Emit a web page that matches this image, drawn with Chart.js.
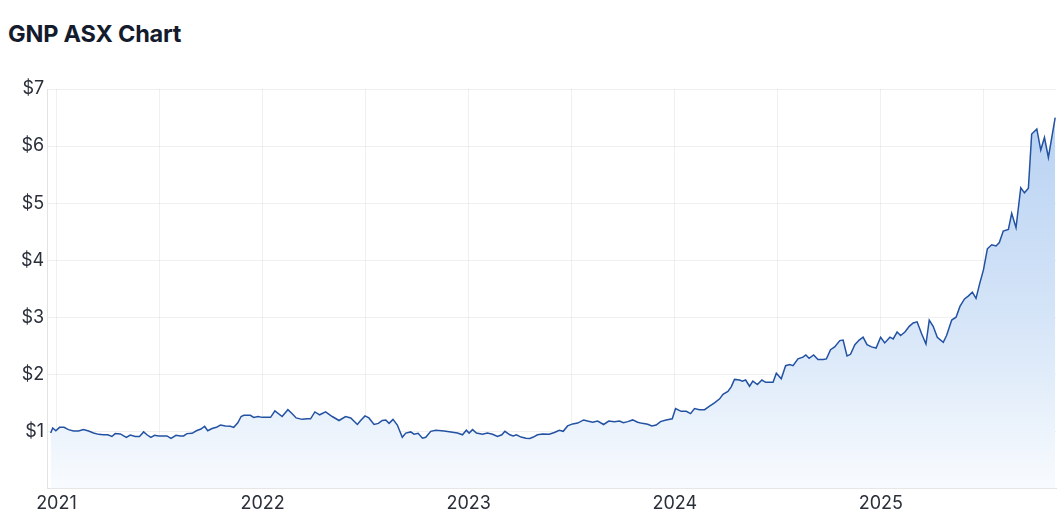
<!DOCTYPE html>
<html>
<head>
<meta charset="utf-8">
<script src="https://cdn.jsdelivr.net/npm/chart.js@4.4.1/dist/chart.umd.min.js"></script>
<style>
  html, body { margin: 0; padding: 0; background: #fff; }
  body { width: 1057px; height: 528px; position: relative; overflow: hidden; font-family: 'Inter', sans-serif; }
  h1 { position: absolute; left: 8px; top: 20px; margin: 0; font-size: 23.5px; line-height: 28px; font-weight: 700; color: #141b2d; letter-spacing: -0.2px; }
  #wrap { position: absolute; left: 0; top: 0; width: 1057px; height: 528px; }
</style>
</head>
<body>
<h1>GNP ASX Chart</h1>
<div id="wrap"><canvas id="chart"></canvas></div>
<script>
// weekly closes, x = decimal year
const dates = [
  2020.972, 2020.982, 2020.997, 2021.015, 2021.037, 2021.058, 2021.083, 2021.107, 2021.131, 2021.156,
  2021.180, 2021.204, 2021.228, 2021.249, 2021.269, 2021.285, 2021.310, 2021.339, 2021.358, 2021.383,
  2021.403, 2021.423, 2021.439, 2021.458, 2021.476, 2021.496, 2021.520, 2021.536, 2021.556, 2021.580,
  2021.601, 2021.617, 2021.633, 2021.658, 2021.679, 2021.701, 2021.719, 2021.734, 2021.755, 2021.776,
  2021.796, 2021.820, 2021.844, 2021.860, 2021.880, 2021.896, 2021.909, 2021.941, 2021.957, 2021.978,
  2021.998, 2022.039, 2022.060, 2022.095, 2022.123, 2022.144, 2022.163, 2022.192, 2022.217, 2022.233,
  2022.254, 2022.277, 2022.306, 2022.338, 2022.371, 2022.403, 2022.428, 2022.460, 2022.476, 2022.497,
  2022.516, 2022.541, 2022.562, 2022.581, 2022.598, 2022.614, 2022.633, 2022.654, 2022.678, 2022.695,
  2022.719, 2022.735, 2022.755, 2022.776, 2022.792, 2022.816, 2022.841, 2022.881, 2022.914, 2022.946,
  2022.970, 2022.989, 2023.002, 2023.019, 2023.038, 2023.067, 2023.091, 2023.116, 2023.140, 2023.161,
  2023.176, 2023.200, 2023.216, 2023.232, 2023.254, 2023.278, 2023.297, 2023.314, 2023.334, 2023.359,
  2023.391, 2023.416, 2023.440, 2023.459, 2023.480, 2023.505, 2023.529, 2023.558, 2023.577, 2023.602,
  2023.626, 2023.655, 2023.680, 2023.707, 2023.732, 2023.751, 2023.772, 2023.796, 2023.820, 2023.842,
  2023.869, 2023.889, 2023.910, 2023.931, 2023.958, 2023.988, 2024.004, 2024.031, 2024.056, 2024.077,
  2024.096, 2024.120, 2024.145, 2024.169, 2024.193, 2024.218, 2024.234, 2024.258, 2024.274, 2024.290,
  2024.315, 2024.328, 2024.344, 2024.363, 2024.379, 2024.401, 2024.423, 2024.441, 2024.477, 2024.493,
  2024.517, 2024.538, 2024.558, 2024.574, 2024.598, 2024.622, 2024.636, 2024.652, 2024.674, 2024.695,
  2024.720, 2024.736, 2024.756, 2024.776, 2024.801, 2024.817, 2024.836, 2024.853, 2024.874, 2024.895,
  2024.914, 2024.933, 2024.955, 2024.977, 2024.999, 2025.019, 2025.044, 2025.060, 2025.079, 2025.096,
  2025.117, 2025.138, 2025.157, 2025.176, 2025.198, 2025.219, 2025.235, 2025.254, 2025.274, 2025.303,
  2025.319, 2025.344, 2025.365, 2025.384, 2025.406, 2025.424, 2025.444, 2025.462, 2025.479, 2025.498,
  2025.517, 2025.538, 2025.559, 2025.575, 2025.594, 2025.619, 2025.635, 2025.656, 2025.679, 2025.697,
  2025.716, 2025.732, 2025.757, 2025.776, 2025.794, 2025.813, 2025.846
]

const prices = [
  0.97, 1.06, 1.01, 1.07, 1.07, 1.03, 1.005, 1.005, 1.03, 1.005,
  0.97, 0.947, 0.94, 0.94, 0.91, 0.96, 0.955, 0.895, 0.935, 0.91,
  0.91, 0.99, 0.94, 0.895, 0.93, 0.92, 0.92, 0.92, 0.877, 0.93,
  0.92, 0.92, 0.96, 0.965, 1.01, 1.04, 1.09, 1.01, 1.05, 1.07,
  1.11, 1.095, 1.09, 1.07, 1.15, 1.26, 1.28, 1.28, 1.245, 1.26,
  1.245, 1.245, 1.36, 1.26, 1.38, 1.31, 1.235, 1.21, 1.22, 1.22,
  1.34, 1.29, 1.34, 1.26, 1.19, 1.26, 1.235, 1.12, 1.19, 1.27,
  1.235, 1.12, 1.14, 1.19, 1.20, 1.14, 1.21, 1.11, 0.895, 0.97,
  0.99, 0.95, 0.965, 0.88, 0.895, 1.0, 1.02, 1.005, 0.99, 0.97,
  0.94, 1.02, 0.97, 1.03, 0.97, 0.95, 0.97, 0.95, 0.91, 0.94,
  1.0, 0.94, 0.92, 0.94, 0.90, 0.88, 0.875, 0.90, 0.94, 0.955,
  0.95, 0.98, 1.02, 1.0, 1.095, 1.13, 1.145, 1.20, 1.18, 1.16,
  1.18, 1.12, 1.18, 1.17, 1.18, 1.15, 1.17, 1.20, 1.16, 1.14,
  1.125, 1.095, 1.11, 1.17, 1.20, 1.22, 1.40, 1.35, 1.35, 1.31,
  1.40, 1.38, 1.38, 1.44, 1.50, 1.57, 1.65, 1.70, 1.78, 1.91,
  1.90, 1.88, 1.90, 1.79, 1.88, 1.82, 1.90, 1.86, 1.86, 2.02,
  1.92, 2.15, 2.17, 2.15, 2.27, 2.30, 2.34, 2.28, 2.34, 2.26,
  2.26, 2.27, 2.43, 2.48, 2.59, 2.60, 2.32, 2.35, 2.52, 2.60,
  2.65, 2.52, 2.48, 2.46, 2.65, 2.55, 2.65, 2.62, 2.74, 2.68,
  2.74, 2.84, 2.90, 2.92, 2.71, 2.53, 2.95, 2.84, 2.65, 2.56,
  2.68, 2.95, 3.00, 3.19, 3.32, 3.37, 3.44, 3.33, 3.58, 3.83,
  4.20, 4.27, 4.25, 4.31, 4.51, 4.54, 4.82, 4.57, 5.27, 5.18,
  5.26, 6.21, 6.30, 5.93, 6.15, 5.80, 6.50
]

const xTicks = [2021, 2021.5, 2022, 2022.5, 2023, 2023.5, 2024, 2024.5, 2025, 2025.5]
const yTicks = [0, 1, 2, 3, 4, 5, 6, 7]

const points = dates.map((d, i) => ({ x: d, y: prices[i] }))

const ctx = document.getElementById('chart').getContext('2d')

new Chart(ctx, {
  type: 'line',
  data: {
    datasets: [
      {
        label: 'GNP',
        data: points,
        borderColor: '#2352a3',
        borderWidth: 1.5,
        pointRadius: 0,
        tension: 0,
        fill: 'origin',
        backgroundColor: (context) => {
          const area = context.chart.chartArea
          if (!area) return 'rgba(180, 205, 240, 0.5)'
          const g = context.chart.ctx.createLinearGradient(0, area.top, 0, area.bottom)
          g.addColorStop(0, 'rgba(180, 207, 242, 1)')
          g.addColorStop(0.6, 'rgba(215, 230, 248, 1)')
          g.addColorStop(1, 'rgba(248, 251, 254, 1)')
          return g
        }
      }
    ]
  },
  options: {
    responsive: true,
    maintainAspectRatio: false,
    animation: false,
    layout: {
      padding: { top: 89, left: 18, right: 1, bottom: 10 }
    },
    plugins: {
      legend: { display: false },
      tooltip: { enabled: false }
    },
    scales: {
      x: {
        type: 'linear',
        min: 2020.955,
        max: 2025.85,
        afterBuildTicks: (scale) => {
          scale.ticks = xTicks.map(v => ({ value: v }))
        },
        ticks: {
          autoSkip: false,
          maxRotation: 0,
          padding: 4,
          color: '#2a2f3a',
          font: { size: 18, family: "'Inter', sans-serif" },
          callback: (v) => Number.isInteger(v) ? String(v) : ''
        },
        grid: {
          color: 'rgba(0, 0, 0, 0.06)',
          drawTicks: false
        },
        border: { color: '#e3e3e3' }
      },
      y: {
        min: 0,
        max: 7,
        afterBuildTicks: (scale) => {
          scale.ticks = yTicks.map(v => ({ value: v }))
        },
        ticks: {
          padding: 3,
          color: '#2a2f3a',
          font: { size: 18, family: "'Inter', sans-serif" },
          callback: (v) => v === 0 ? '' : '$' + v
        },
        grid: {
          color: 'rgba(0, 0, 0, 0.06)',
          drawTicks: false
        },
        border: { color: '#e3e3e3' }
      }
    }
  }
})
</script>
</body>
</html>
